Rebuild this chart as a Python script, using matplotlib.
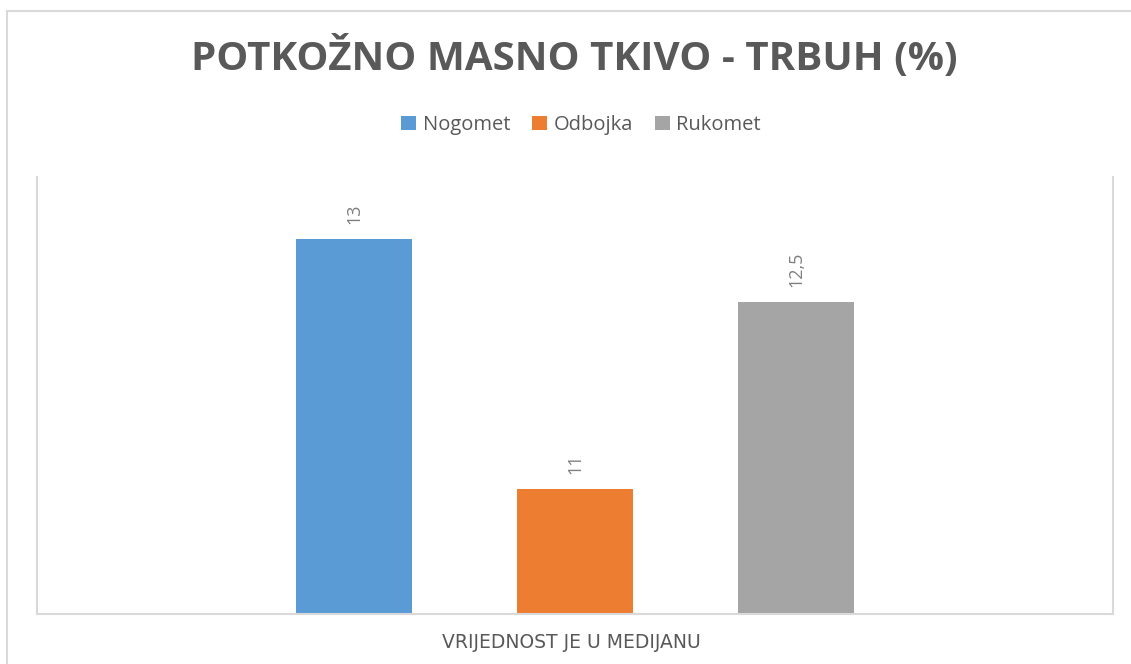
import matplotlib.pyplot as plt
from matplotlib.patches import Rectangle

# data
series = ["Nogomet", "Odbojka", "Rukomet"]
values = [13, 11, 12.5]
labels = ["13", "11", "12,5"]
colors = ["#5B9BD5", "#ED7D31", "#A5A5A5"]
category = "VRIJEDNOST JE U MEDIJANU"
title = "POTKOŽNO MASNO TKIVO - TRBUH (%)"

W, H = 1131, 664
fig = plt.figure(figsize=(W / 100, H / 100), dpi=100)

# outer chart border (cropped at right/bottom)
fig.patches.append(Rectangle((7 / W, -0.1), 1.2, (H - 11) / H + 0.1,
                             transform=fig.transFigure, fill=False,
                             edgecolor="#D9D9D9", linewidth=1.5))

ax = fig.add_axes([37 / W, (H - 614) / H, (1113 - 37) / W, (614 - 177) / H])

positions = [-1, 0, 1]
for pos, val, lab, col, name in zip(positions, values, labels, colors, series):
    ax.bar(pos, val - 10, bottom=10, width=0.525, color=col, label=name)
    ax.annotate(lab, xy=(pos, val), xytext=(0, 11), textcoords="offset points",
                rotation=90, ha="center", va="bottom", fontsize=13,
                color="#7F7F7F", family="Open Sans")

ax.set_xlim(-2.434, 2.434)
ax.set_ylim(10, 13.5)
ax.set_xticks([])
ax.set_yticks([])
for side in ["left", "right", "bottom"]:
    ax.spines[side].set_color("#D9D9D9")
    ax.spines[side].set_linewidth(1.5)
ax.spines["top"].set_visible(False)

fig.text(574 / W, 1 - 58 / H, title, ha="center", va="center", fontsize=29,
         fontweight="bold", color="#595959", family="Open Sans")

fig.text(571 / W, 1 - 643 / H, category, ha="center", va="center", fontsize=13.5,
         color="#595959", family="DejaVu Sans")

leg = fig.legend(loc="center", bbox_to_anchor=(581 / W, 1 - 125 / H), ncol=3,
                 frameon=False, handlelength=0.75, handleheight=0.75,
                 handletextpad=0.3, columnspacing=1.1,
                 prop={"family": "Open Sans", "size": 14.5})
for t in leg.get_texts():
    t.set_color("#595959")

fig.savefig("out.png", dpi=100)
